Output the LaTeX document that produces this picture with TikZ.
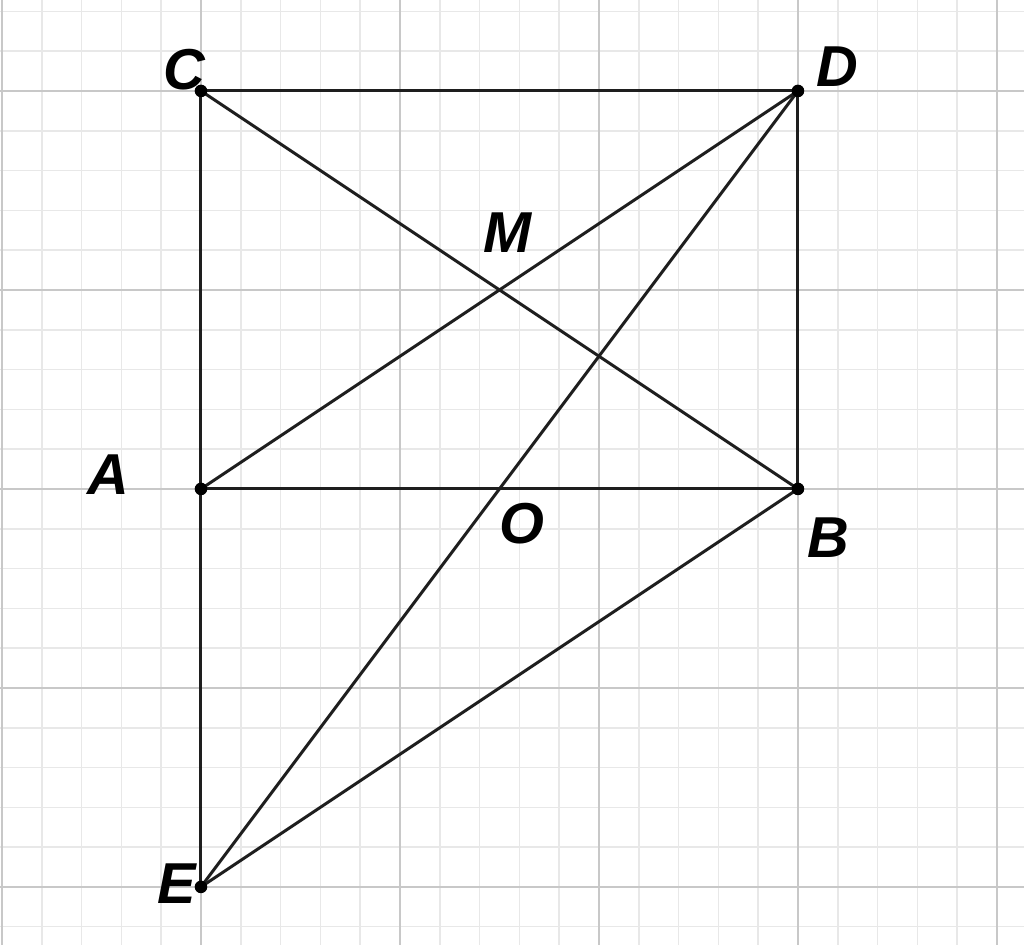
\documentclass[tikz,border=0pt]{standalone}
\usepackage{fontspec}
\setmainfont{Liberation Sans}
\pgfdeclarelayer{gridlayer}
\pgfdeclarelayer{linelayer}
\pgfsetlayers{gridlayer,linelayer,main}
\begin{document}
\begin{tikzpicture}[x=2cm,y=2cm,
  minorgrid/.style={draw={rgb,255:red,232;green,232;blue,232},line width=0.45pt},
  majorgrid/.style={draw={rgb,255:red,200;green,200;blue,200},line width=0.6pt},
  seg/.style={draw={rgb,255:red,30;green,30;blue,30},line width=0.85pt},
  pt/.style={circle,fill=black,inner sep=0pt,minimum size=3.6pt},
  lbl/.style={font=\fontsize{16.5}{18}\selectfont\bfseries\itshape,inner sep=0pt}]
\useasboundingbox (-1.010,-2.291) rectangle (4.136,2.457);
\begin{pgfonlayer}{gridlayer}
\fill[white] (-1.010,-2.291) rectangle (4.136,2.457);
\begin{scope}
\clip (-1.010,-2.291) rectangle (4.136,2.457);
\draw[minorgrid,step=0.2] (-1.2,-2.4) grid (4.4,2.6);
\draw[majorgrid,step=1] (-1.2,-2.4) grid (4.4,2.6);
\end{scope}
\end{pgfonlayer}
\node[pt] (A) at (0,0) {};
\node[pt] (B) at (3,0) {};
\node[pt] (C) at (0,2) {};
\node[pt] (D) at (3,2) {};
\node[pt] (E) at (0,-2) {};
\begin{pgfonlayer}{linelayer}
\draw[seg] (C.center) -- (D.center) -- (B.center) -- (A.center) -- (C.center);
\draw[seg] (C.center) -- (B.center);
\draw[seg] (A.center) -- (D.center);
\draw[seg] (D.center) -- (E.center);
\draw[seg] (A.center) -- (E.center);
\draw[seg] (E.center) -- (B.center);
\end{pgfonlayer}
\node[lbl] (lC) at (-0.085,2.106) {C};
\node[lbl] (lD) at (3.196,2.121) {D};
\node[lbl] (lA) at (-0.467,0.070) {A};
\node[lbl] (lM) at (1.538,1.286) {M};
\node[lbl] (lB) at (3.151,-0.246) {B};
\node[lbl] (lE) at (-0.121,-1.985) {E};
\node[lbl] (lO) at (1.613,-0.176) {O};
\end{tikzpicture}
\end{document}
